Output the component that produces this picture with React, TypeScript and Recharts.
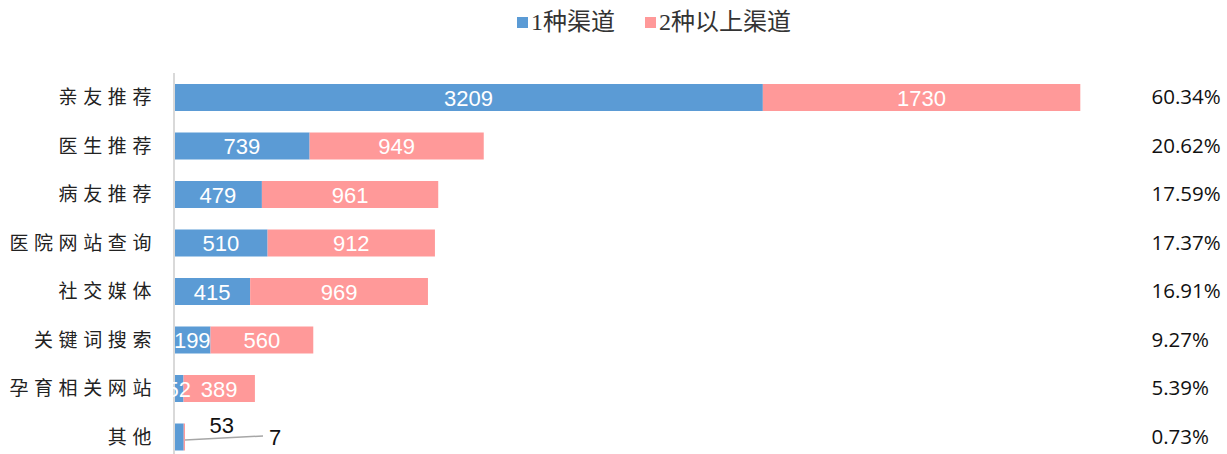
import { Bar, BarChart, LabelList, XAxis, YAxis } from 'recharts';

// Channels through which respondents learned about the service, split into
// people who used one channel vs. two or more. Right column = share of total.

const categories = ['亲友推荐', '医生推荐', '病友推荐', '医院网站查询', '社交媒体', '关键词搜索', '孕育相关网站', '其他'];
const oneChannel = [3209, 739, 479, 510, 415, 199, 52, 53];
const multiChannel = [1730, 949, 961, 912, 969, 560, 389, 7];
const shares = ['60.34%', '20.62%', '17.59%', '17.37%', '16.91%', '9.27%', '5.39%', '0.73%'];

const BLUE = '#5B9BD5';
const PINK = '#FF9999';

const rows = categories.map((name, i) => ({
  name,
  one: oneChannel[i],
  multi: multiChannel[i],
  share: shares[i],
}));

const SMALL = 30; // segments narrower than this get an outside label

const CategoryTick = (props: any) => {
  const { x, y, payload } = props;
  return (
    <text
      x={x - 9}
      y={y}
      dy={7}
      textAnchor="end"
      fontSize={19}
      fill="#222"
      style={{ letterSpacing: 5.6, fontFamily: 'Noto Sans CJK SC' }}
    >
      {payload.value}
    </text>
  );
};

const ShareTick = (props: any) => {
  const { x, y, payload } = props;
  return (
    <text x={x + 52} y={y} dy={7} textAnchor="start" fontSize={20.5} fill="#111" fontFamily="Open Sans">
      {payload.value}
    </text>
  );
};

const InnerLabel = (props: any) => {
  const { x, y, width, height, value, index } = props;
  if (index === rows.length - 1) return null;
  return (
    <text
      x={x + width / 2}
      y={y + height / 2}
      dy={8}
      textAnchor="middle"
      fontSize={22}
      fill="#fff"
      fontFamily="Liberation Sans"
    >
      {value}
    </text>
  );
};

// last row is too thin: labels go outside, the pink one with a leader line
const OneOutside = (props: any) => {
  const { x, y, width, value, index } = props;
  if (index !== rows.length - 1 || width > SMALL) return null;
  return (
    <text x={x + width + 38} y={y + 9} textAnchor="middle" fontSize={22} fill="#111" fontFamily="Liberation Sans">
      {value}
    </text>
  );
};

const MultiOutside = (props: any) => {
  const { x, y, width, height, value, index } = props;
  if (index !== rows.length - 1 || width > SMALL) return null;
  const sx = x + width;
  const sy = y + height / 2 + 3;
  return (
    <g>
      <line x1={sx} y1={sy} x2={sx + 78} y2={sy - 4} stroke="#a6a6a6" strokeWidth={1.5} />
      <text x={sx + 90} y={sy + 5} textAnchor="middle" fontSize={22} fill="#111" fontFamily="Liberation Sans">
        {value}
      </text>
    </g>
  );
};

const legendItems = [
  { label: '1种渠道', color: BLUE },
  { label: '2种以上渠道', color: PINK },
];

export default function App() {
  return (
    <div style={{ position: 'absolute', left: 0, top: 0, width: 1227, height: 454, overflow: 'hidden', background: '#fff' }}>
      <div
        style={{
          position: 'absolute',
          top: 8,
          left: 517,
          display: 'flex',
          gap: 30,
          fontFamily: '"Liberation Serif", "Noto Sans CJK SC"',
          fontSize: 24,
          lineHeight: '28px',
          color: '#333',
        }}
      >
        {legendItems.map((it) => (
          <span key={it.label} style={{ display: 'flex', alignItems: 'center' }}>
            <span style={{ width: 11, height: 11, background: it.color, marginRight: 3, display: 'inline-block' }} />
            {it.label}
          </span>
        ))}
      </div>
      <BarChart
        width={1227}
        height={470}
        data={rows}
        layout="vertical"
        margin={{ top: 73, right: 0, left: 0, bottom: 9 }}
        barSize={27}
      >
        <XAxis type="number" hide domain={[0, 5000]} />
        <YAxis
          yAxisId="left"
          type="category"
          dataKey="name"
          width={174}
          tickLine={false}
          axisLine={{ stroke: '#d9d9d9', strokeWidth: 2 }}
          tick={<CategoryTick />}
          interval={0}
        />
        <YAxis
          yAxisId="right"
          orientation="right"
          type="category"
          dataKey="share"
          width={135.5}
          tickLine={false}
          axisLine={false}
          tick={<ShareTick />}
          interval={0}
        />
        <Bar yAxisId="left" dataKey="one" stackId="a" fill={BLUE} name="1种渠道" isAnimationActive={false}>
          <LabelList dataKey="one" content={<InnerLabel />} />
          <LabelList dataKey="one" content={<OneOutside />} />
        </Bar>
        <Bar yAxisId="left" dataKey="multi" stackId="a" fill={PINK} name="2种以上渠道" isAnimationActive={false}>
          <LabelList dataKey="multi" content={<InnerLabel />} />
          <LabelList dataKey="multi" content={<MultiOutside />} />
        </Bar>
      </BarChart>
    </div>
  );
}
